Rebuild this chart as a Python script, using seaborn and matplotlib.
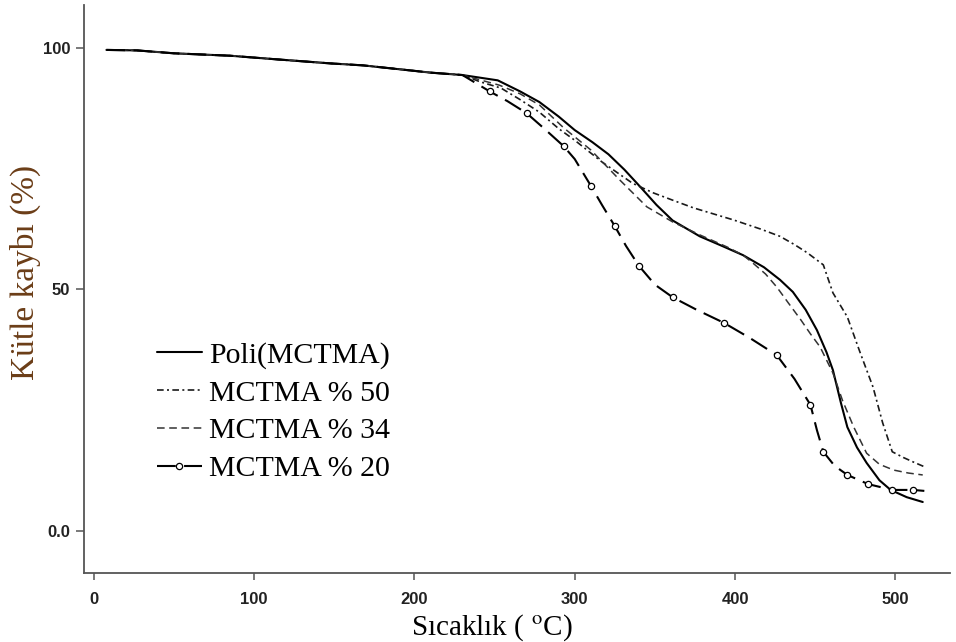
import matplotlib
matplotlib.use("Agg")
import matplotlib.pyplot as plt
import seaborn as sns
import pandas as pd

# Thermogravimetric curves: mass remaining (%) against temperature (°C)
temp_poli = [8, 27, 50, 85, 116, 148, 168, 199, 210, 230, 252, 266, 278, 290, 300,
             311, 321, 331, 341, 351, 361, 378, 392, 405, 418, 428, 436, 444, 451,
             457, 461, 466, 470, 476, 482, 490, 497, 507, 517]
mass_poli = [99.6, 99.5, 98.9, 98.4, 97.6, 96.8, 96.4, 95.3, 94.9, 94.4, 93.3, 91.0,
             88.8, 85.8, 83.0, 80.5, 78.0, 74.8, 71.2, 67.5, 64.3, 61.0, 59.0, 57.1,
             54.6, 52.0, 49.5, 45.8, 41.6, 37.0, 33.3, 26.5, 21.5, 17.3, 14.1, 10.5,
             8.5, 7.0, 6.0]

temp_50 = [8, 27, 50, 85, 116, 148, 168, 199, 210, 230, 241, 254, 266, 278, 290, 300,
           317, 336, 349, 361, 374, 387, 399, 416, 428, 437, 445, 455, 461, 470, 478,
           486, 492, 498, 505, 511, 518]
mass_50 = [99.6, 99.5, 98.9, 98.4, 97.6, 96.8, 96.4, 95.3, 94.9, 94.4, 93.0, 91.7,
           89.3, 86.7, 83.3, 80.9, 76.4, 72.0, 70.0, 68.5, 66.9, 65.6, 64.4, 62.5,
           61.0, 59.3, 57.6, 55.1, 49.3, 44.3, 36.9, 29.8, 22.4, 16.4, 15.2, 14.3, 13.3]

temp_34 = [8, 27, 50, 85, 116, 148, 168, 199, 210, 230, 253, 266, 278, 293, 310, 328,
           345, 361, 378, 395, 405, 411, 419, 426, 433, 441, 447, 453, 461, 467, 474,
           482, 490, 499, 508, 517]
mass_34 = [99.6, 99.5, 98.9, 98.4, 97.6, 96.8, 96.4, 95.3, 94.9, 94.4, 92.3, 90.5,
           88.2, 83.5, 78.9, 72.7, 67.1, 64.0, 61.3, 58.8, 57.1, 55.5, 53.2, 50.5,
           47.3, 43.7, 40.8, 38.1, 32.7, 27.0, 21.5, 16.1, 13.8, 12.6, 12.0, 11.6]

temp_20 = [8, 27, 50, 85, 116, 148, 168, 199, 210, 230, 247, 258, 270, 281, 293, 300,
           310, 317, 325, 332, 340, 350, 361, 376, 393, 409, 426, 437, 447, 451, 455,
           462, 470, 483, 498, 511, 518]
mass_20 = [99.6, 99.5, 98.9, 98.4, 97.6, 96.8, 96.4, 95.3, 94.9, 94.4, 91.0, 89.0,
           86.5, 83.3, 79.7, 77.0, 71.5, 67.5, 63.1, 59.0, 54.9, 51.0, 48.4, 45.8,
           43.1, 40.0, 36.4, 31.5, 26.1, 20.9, 16.4, 13.5, 11.6, 9.7, 8.5, 8.5, 8.3]
markers_20 = [10, 12, 14, 16, 18, 20, 22, 24, 26, 28, 30, 32, 33, 34, 35]

series_labels = ["Poli(MCTMA)", "MCTMA % 50", "MCTMA % 34", "MCTMA % 20"]
x_ticks = [0, 100, 200, 300, 400, 500]
y_ticks = [0, 50, 100]
y_tick_labels = ["0.0", "50", "100"]

sns.set_theme(style="ticks")
plt.rcParams["font.family"] = ["Liberation Serif", "DejaVu Serif"]
plt.rcParams["mathtext.fontset"] = "stix"

fig = plt.figure(figsize=(9.56, 6.42), dpi=100)
ax = fig.add_axes([84 / 956, 1 - 573 / 642, 866 / 956, 568 / 642])

frames = [
    pd.DataFrame({"T": temp_poli, "m": mass_poli}),
    pd.DataFrame({"T": temp_50, "m": mass_50}),
    pd.DataFrame({"T": temp_34, "m": mass_34}),
    pd.DataFrame({"T": temp_20, "m": mass_20}),
]

sns.lineplot(data=frames[0], x="T", y="m", ax=ax, color="black", lw=1.5,
             linestyle="-", sort=False, estimator=None, label=series_labels[0])
sns.lineplot(data=frames[1], x="T", y="m", ax=ax, color="#1a1a1a", lw=1.2,
             linestyle=(0, (4, 2, 1.2, 2)), sort=False, estimator=None,
             label=series_labels[1])
sns.lineplot(data=frames[2], x="T", y="m", ax=ax, color="#333333", lw=1.1,
             linestyle=(0, (5, 3)), sort=False, estimator=None,
             label=series_labels[2])
sns.lineplot(data=frames[3], x="T", y="m", ax=ax, color="black", lw=1.5,
             linestyle=(0, (9, 4)), marker="o", markersize=4.5,
             markerfacecolor="white", markeredgecolor="black", markeredgewidth=0.9,
             markevery=markers_20, sort=False, estimator=None,
             label=series_labels[3])

ax.set_xlim(-6, 534)
ax.set_ylim(-8.7, 108.9)
ax.set_xticks(x_ticks)
ax.set_yticks(y_ticks)
ax.set_yticklabels(y_tick_labels)

for lab in ax.get_xticklabels() + ax.get_yticklabels():
    lab.set_fontfamily("Liberation Sans")
    lab.set_fontweight("bold")
    lab.set_fontsize(12)
    lab.set_color("#222222")
ax.tick_params(axis="y", direction="out", length=6, width=1.1, color="#555555", pad=4)
ax.tick_params(axis="x", direction="out", length=5, width=1.1, color="#555555", pad=9)

for side in ("top", "right"):
    ax.spines[side].set_visible(False)
for side in ("left", "bottom"):
    ax.spines[side].set_color("#555555")
    ax.spines[side].set_linewidth(1.3)

ax.set_xlabel(r"Sıcaklık ( $^{\rm o}$C)", fontsize=21, color="black")
ax.xaxis.set_label_coords((492 - 84) / 866, (573 - 628) / 568)
ax.xaxis.label.set_verticalalignment("center")

ax.set_ylabel("Kütle kaybı (%)", fontsize=24, color="#6b3d17")
ax.yaxis.set_label_coords((25 - 84) / 866, (573 - 272) / 568)
ax.yaxis.label.set_verticalalignment("center")
ax.yaxis.label.set_horizontalalignment("center")

leg = ax.legend(loc="upper left", bbox_to_anchor=(0.084, 0.407), frameon=False,
                fontsize=21.5, handlelength=1.5, handletextpad=0.25,
                labelspacing=0.36, borderaxespad=0, borderpad=0)
for txt in leg.get_texts():
    txt.set_color("black")

fig.savefig("out.png", dpi=100)
